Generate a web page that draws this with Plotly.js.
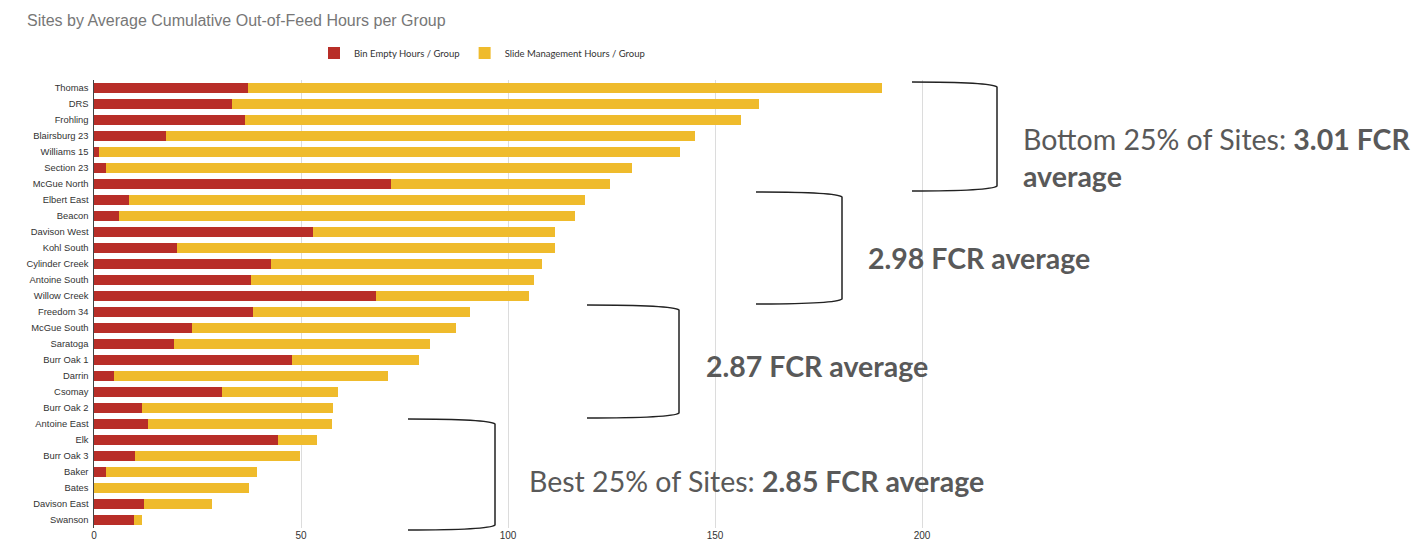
<!DOCTYPE html>
<html>
<head>
<meta charset="utf-8">
<script src="https://cdn.plot.ly/plotly-3.0.1.min.js"></script>
<style>html,body{margin:0;padding:0;background:#fff;}#chart{width:1412px;height:548px;}</style>
</head>
<body>
<div id="chart"></div>
<script>
const sites = ["Thomas","DRS","Frohling","Blairsburg 23","Williams 15","Section 23","McGue North","Elbert East","Beacon","Davison West","Kohl South","Cylinder Creek","Antoine South","Willow Creek","Freedom 34","McGue South","Saratoga","Burr Oak 1","Darrin","Csomay","Burr Oak 2","Antoine East","Elk","Burr Oak 3","Baker","Bates","Davison East","Swanson"];
const binEmptyHours = [37.2,33.4,36.5,17.5,1.2,3.0,71.8,8.4,6.1,52.8,20.0,42.8,38.0,68.1,38.4,23.7,19.4,47.8,4.8,30.9,11.5,13.0,44.4,9.9,2.8,0,12.1,9.6];
const slideMgmtHours = [153.1,127.2,119.7,127.6,140.3,126.9,52.8,110.1,110.0,58.6,91.4,65.4,68.3,36.9,52.5,63.8,61.7,30.6,66.1,28.0,46.2,44.6,9.4,39.8,36.5,37.4,16.5,1.9];
const seriesNames = ["Bin Empty Hours / Group","Slide Management Hours / Group"];
const xTicks = [0,50,100,150,200];
const groupNotes = [
  "Bottom 25% of Sites: <b>3.01 FCR</b><br><b>average</b>",
  "<b>2.98 FCR average</b>",
  "<b>2.87 FCR average</b>",
  "Best 25% of Sites: <b>2.85 FCR average</b>"
];

// layout geometry (pixels)
const W = 1412, H = 548;
const L = 94, R = 1000, T = 80, B = 528;
const px = x => (x - L) / (R - L);
const py = y => (B - y) / (B - T);

function bracket(x0, x1, yt, yb) {
  return {
    type: 'path', xref: 'paper', yref: 'paper',
    path: `M ${px(x0)},${py(yt)} Q ${px(x1-6)},${py(yt)} ${px(x1)},${py(yt+5)} L ${px(x1)},${py(yb-5)} Q ${px(x1-6)},${py(yb)} ${px(x0)},${py(yb)}`,
    line: {color: '#222', width: 1.5}
  };
}

const brackets = [
  bracket(912, 997, 82, 191),
  bracket(756, 842, 192, 304),
  bracket(587, 679, 305, 418),
  bracket(408, 495, 419, 530)
];

const notePos = [[1021,157],[866,258],[704,366],[527,481]];
const annFont = {family: 'Lato, "Open Sans", sans-serif', size: 28.5, color: '#595959'};
const annotations = groupNotes.map((t, i) => ({
  text: t, xref: 'paper', yref: 'paper',
  x: px(notePos[i][0]), y: py(notePos[i][1]),
  xanchor: 'left', yanchor: 'middle', align: 'left',
  showarrow: false, font: annFont
}));

const traces = [
  {type: 'bar', orientation: 'h', y: sites, x: binEmptyHours, name: seriesNames[0],
   marker: {color: '#B82E28'}, hoverinfo: 'x+y'},
  {type: 'bar', orientation: 'h', y: sites, x: slideMgmtHours, name: seriesNames[1],
   marker: {color: '#EFBB2C'}, hoverinfo: 'x+y'}
];

const layout = {
  width: W, height: H,
  margin: {l: L, r: W - R, t: T, b: H - B, pad: 0},
  paper_bgcolor: '#fff', plot_bgcolor: '#fff',
  barmode: 'stack', bargap: 0.34,
  title: {text: 'Sites by Average Cumulative Out-of-Feed Hours per Group',
          x: 27 / W, xref: 'container', xanchor: 'left', y: 1 - 20 / H, yref: 'container', yanchor: 'middle',
          font: {family: 'Liberation Sans, Arial, sans-serif', size: 16, color: '#777'}},
  showlegend: true,
  legend: {orientation: 'h', x: px(482), y: py(53), xanchor: 'center', yanchor: 'middle',
           font: {family: 'Lato, sans-serif', size: 9.5, color: '#333'}, itemwidth: 30, traceorder: 'normal'},
  xaxis: {range: [0, (R - L) / 4.14], tickvals: xTicks, ticktext: xTicks.map(String),
          showgrid: true, gridcolor: '#dcdcdc', gridwidth: 1, zeroline: false, showline: false,
          ticks: '', tickfont: {family: 'Liberation Sans, Arial, sans-serif', size: 10, color: '#333'},
          fixedrange: true},
  yaxis: {autorange: 'reversed', type: 'category', showline: true, linecolor: '#444', linewidth: 1,
          showgrid: false, ticks: '', ticksuffix: ' ',
          tickfont: {family: 'Liberation Sans, Arial, sans-serif', size: 9.4, color: '#333'},
          fixedrange: true},
  shapes: brackets,
  annotations: annotations
};

Plotly.newPlot('chart', traces, layout, {displayModeBar: false, staticPlot: true});
</script>
</body>
</html>
